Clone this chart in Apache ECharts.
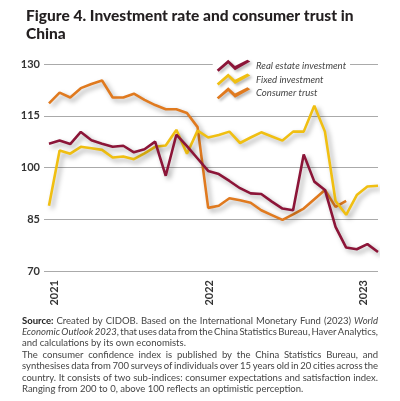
<!DOCTYPE html>
<html><head><meta charset="utf-8">
<script src="https://cdn.jsdelivr.net/npm/echarts@6/dist/echarts.min.js"></script>
<style>html,body{margin:0;padding:0;background:#fff}#c{width:400px;height:401px}</style>
</head><body><div id="c"></div>
<script>
const yearTicks = ['2021', '2022', '2023'];
const seriesNames = ['Real estate investment', 'Fixed investment', 'Consumer trust'];
const realEstate = [106.9, 107.8, 106.8, 110.3, 107.9, 106.9, 106.0, 106.3, 104.4, 105.3, 107.5, 97.6,
  109.5, 106.2, 102.6, 99.0, 98.1, 96.1, 94.0, 92.5, 92.3, 90.1, 88.1, 87.6, 103.8, 95.9, 93.5, 82.8,
  76.8, 76.3, 77.8, 75.5];
const fixedInvestment = [88.9, 104.9, 104.0, 106.0, 105.6, 105.1, 102.9, 103.2, 102.4, 104.1, 106.0, 106.4,
  110.9, 104.0, 110.7, 108.7, 109.4, 110.4, 107.1, 108.7, 110.2, 109.0, 107.8, 110.4, 110.4, 117.9, 110.4,
  90.3, 86.3, 92.0, 94.5, 94.7];
const consumerTrust = [118.6, 121.7, 120.3, 123.0, 124.2, 125.2, 120.3, 120.3, 121.4, 119.6, 118.1, 116.9,
  116.9, 115.8, 111.7, 88.3, 88.9, 91.1, 90.5, 89.8, 87.6, 86.2, 84.8, 86.4, 88.1, 90.8, 93.5, 88.6, 90.3];
const colors = ['#8c1538', '#f0bf12', '#e07a1f'];

// Source note: lines as in the reference; true = justified line
const sourceLines = [
  ['{b|Source:} Created by CIDOB. Based on the International Monetary Fund (2023) {i|World}', true],
  ['{i|Economic} {i|Outlook} {i|2023}, that uses data from the China Statistics Bureau, Haver Analytics,', true],
  ['and calculations by its own economists.', false],
  ['The consumer confidence index is published by the China Statistics Bureau, and', true],
  ['synthesises data from 700 surveys of individuals over 15 years old in 20 cities across the', true],
  ['country. It consists of two sub-indices: consumer expectations and satisfaction index.', true],
  ['Ranging from 200 to 0, above 100 reflects an optimistic perception.', false]
];

const toXY = arr => arr.map((v, i) => [i, v]);
const zig = 'path://M0,10.5 L12,0 L19,6.5 L32,0 L35,2 L19,11 L12,4 L2,12.5 Z';

const FONT_FAMILY = 'Lato';
const FS = 9.5;
const styleFont = s => (s === 'i' ? 'italic ' : '') + (s === 'b' ? 'bold ' : '') + FS + 'px ' + FONT_FAMILY;
const ctx = document.createElement('canvas').getContext('2d');
function measureWord(w) {
  let width = 0; const re = /\{(\w)\|([^}]*)\}|([^{]+)/g; let m;
  while ((m = re.exec(w))) {
    const s = m[1] || 'n'; const t = m[1] ? m[2] : m[3];
    ctx.font = styleFont(s); width += ctx.measureText(t).width;
  }
  return width;
}
const rich = {
  b: { fontWeight: 'bold', fill: '#222', fontSize: FS, fontFamily: FONT_FAMILY },
  i: { fontStyle: 'italic', fill: '#444', fontSize: FS, fontFamily: FONT_FAMILY }
};
const textLeft = 22, textRight = 378, textTop = 315.5, lh = 11.4;
const graphics = [];
sourceLines.forEach(([line, justify], li) => {
  const words = line.split(' ');
  const widths = words.map(measureWord);
  ctx.font = styleFont('n');
  const total = widths.reduce((a, b) => a + b, 0);
  const gap = justify ? (textRight - textLeft - total) / (words.length - 1) : ctx.measureText(' ').width;
  let x = textLeft;
  words.forEach((w, wi) => {
    graphics.push({
      type: 'text', x, y: textTop + li * lh, silent: true,
      style: { text: w, rich, fill: '#444', fontSize: FS, fontFamily: FONT_FAMILY, verticalAlign: 'top', align: 'left' }
    });
    x += widths[wi] + gap;
  });
});

const chart = echarts.init(document.getElementById('c'));
const mk = (name, data, color) => ({
  name, type: 'line', data: toXY(data), xAxisIndex: 0, symbol: 'none', color,
  lineStyle: { width: 2.6, color, shadowColor: 'rgba(0,0,0,0.35)', shadowBlur: 5, shadowOffsetX: 3, shadowOffsetY: 3 }
});
chart.setOption({
  animation: false,
  title: {
    text: 'Figure 4. Investment rate and consumer trust in\nChina', left: 21, top: 1.5,
    textStyle: { fontFamily: 'Lato', fontWeight: 900, fontSize: 15.5, lineHeight: 18.5, color: '#231f20' }
  },
  legend: {
    orient: 'vertical', left: 212.7, top: 57.7, itemWidth: 35, itemHeight: 12, itemGap: 1.8,
    backgroundColor: '#fff', padding: [2, 4, 2, 4],
    data: seriesNames.map(n => ({ name: n, icon: zig })),
    itemStyle: { shadowColor: 'rgba(0,0,0,0.3)', shadowBlur: 3, shadowOffsetX: 2, shadowOffsetY: 2 },
    textStyle: { fontStyle: 'italic', fontSize: 9.6, color: '#444', fontFamily: 'Lato' }
  },
  grid: { left: 44, right: 22, top: 64, bottom: 130 },
  xAxis: [
    { type: 'value', min: -0.47, max: realEstate.length - 1, position: 'top', show: false },
    {
      type: 'value', position: 'bottom', min: 2020.929, max: 2023.097,
      axisLine: { show: false }, axisTick: { show: false }, splitLine: { show: false },
      axisLabel: {
        customValues: yearTicks.map(Number), formatter: v => String(Math.round(v)),
        rotate: 90, margin: 9, fontWeight: 'bold', fontSize: 11, color: '#333', fontFamily: 'Lato'
      }
    }
  ],
  yAxis: {
    type: 'value', min: 70, max: 130, interval: 15,
    axisLine: { show: false }, axisTick: { show: false },
    axisLabel: { margin: 4, fontWeight: 'bold', fontSize: 11, color: '#333', fontFamily: 'Lato' },
    splitLine: { lineStyle: { color: '#aaa', width: 1 } }
  },
  series: [
    mk(seriesNames[2], consumerTrust, colors[2]),
    mk(seriesNames[1], fixedInvestment, colors[1]),
    mk(seriesNames[0], realEstate, colors[0])
  ],
  graphic: graphics
});
</script></body></html>
